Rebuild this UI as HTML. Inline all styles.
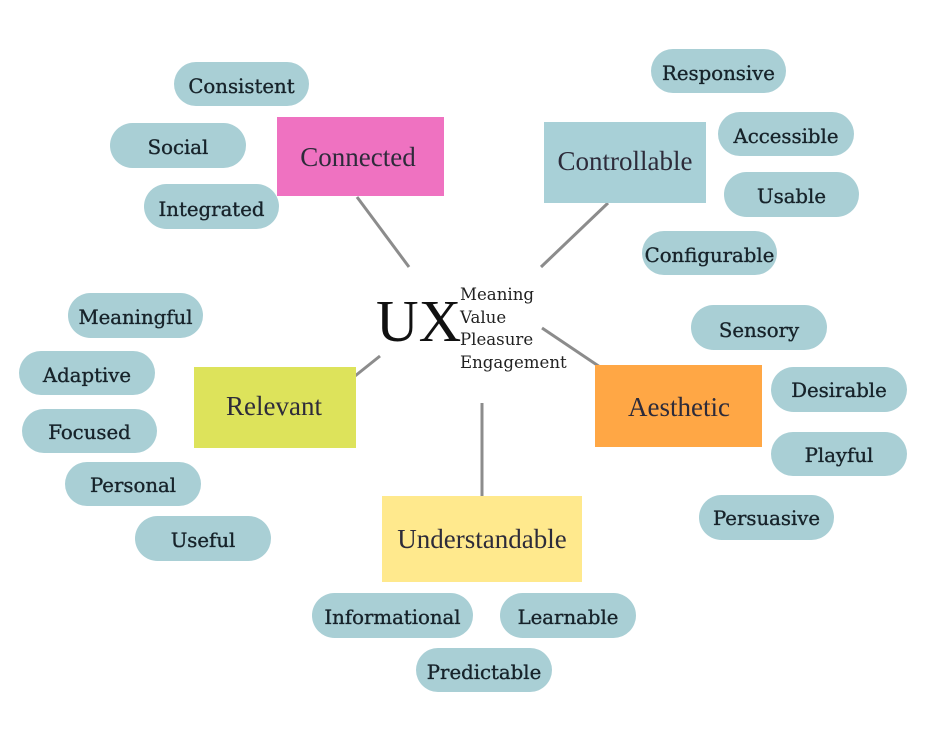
<!DOCTYPE html>
<html>
<head>
<meta charset="utf-8">
<style>
  html,body{margin:0;padding:0;background:#fff;}
  svg{display:block;}
  .pill{fill:#a9cfd5;}
  .pt{font-family:"DejaVu Serif","Liberation Serif",serif;font-size:19.7px;fill:#17232a;stroke:#17232a;stroke-width:0.35;text-anchor:middle;}
  .ct{font-family:"Liberation Serif",serif;font-size:27px;fill:#2d2b3a;text-anchor:middle;}
  .ln{stroke:#8c8c8c;stroke-width:3;}
  .sm{font-family:"DejaVu Serif","Liberation Serif",serif;font-size:16.6px;fill:#222;}
</style>
</head>
<body>
<svg width="944" height="732" viewBox="0 0 944 732" xmlns="http://www.w3.org/2000/svg">
  <rect width="944" height="732" fill="#fff"/>

  <!-- connectors -->
  <line class="ln" x1="357" y1="197" x2="409" y2="267"/>
  <line class="ln" x1="608" y1="203" x2="541" y2="267"/>
  <line class="ln" x1="355" y1="376" x2="380" y2="356"/>
  <line class="ln" x1="542" y1="328" x2="600" y2="367"/>
  <line class="ln" x1="482" y1="403" x2="482" y2="497"/>

  <!-- center UX -->
  <text x="376" y="341" style="font-family:'Liberation Serif',serif;font-size:59px;fill:#111;">UX</text>
  <text class="sm" x="460" y="300">Meaning</text>
  <text class="sm" x="460" y="323">Value</text>
  <text class="sm" x="460" y="345">Pleasure</text>
  <text class="sm" x="460" y="368">Engagement</text>

  <!-- category boxes -->
  <rect x="277" y="117" width="167" height="79" fill="#ef72c1"/>
  <text class="ct" x="358" y="166">Connected</text>

  <rect x="544" y="122" width="162" height="81" fill="#a8d0d7"/>
  <text class="ct" x="625" y="170">Controllable</text>

  <rect x="194" y="367" width="162" height="81" fill="#dde35b"/>
  <text class="ct" x="274" y="415">Relevant</text>

  <rect x="595" y="365" width="167" height="82" fill="#ffa745"/>
  <text class="ct" x="679" y="416">Aesthetic</text>

  <rect x="382" y="496" width="200" height="86" fill="#ffe98d"/>
  <text class="ct" x="482" y="548">Understandable</text>

  <!-- pills: Connected -->
  <rect class="pill" x="174" y="62" width="135" height="44" rx="22"/>
  <text class="pt" x="241.5" y="93">Consistent</text>
  <rect class="pill" x="110" y="123" width="136" height="45" rx="22.5"/>
  <text class="pt" x="178" y="154">Social</text>
  <rect class="pill" x="144" y="184" width="135" height="45" rx="22.5"/>
  <text class="pt" x="211.5" y="216">Integrated</text>

  <!-- pills: Controllable -->
  <rect class="pill" x="651" y="49" width="135" height="44" rx="22"/>
  <text class="pt" x="718.5" y="80">Responsive</text>
  <rect class="pill" x="718" y="112" width="136" height="44" rx="22"/>
  <text class="pt" x="786" y="143">Accessible</text>
  <rect class="pill" x="724" y="172" width="135" height="45" rx="22.5"/>
  <text class="pt" x="791.5" y="203">Usable</text>
  <rect class="pill" x="642" y="231" width="135" height="44" rx="22"/>
  <text class="pt" x="709.5" y="262">Configurable</text>

  <!-- pills: Relevant -->
  <rect class="pill" x="68" y="293" width="135" height="45" rx="22.5"/>
  <text class="pt" x="135.5" y="324">Meaningful</text>
  <rect class="pill" x="19" y="351" width="136" height="44" rx="22"/>
  <text class="pt" x="87" y="382">Adaptive</text>
  <rect class="pill" x="22" y="409" width="135" height="44" rx="22"/>
  <text class="pt" x="89.5" y="439">Focused</text>
  <rect class="pill" x="65" y="462" width="136" height="44" rx="22"/>
  <text class="pt" x="133" y="492">Personal</text>
  <rect class="pill" x="135" y="516" width="136" height="45" rx="22.5"/>
  <text class="pt" x="203" y="547">Useful</text>

  <!-- pills: Aesthetic -->
  <rect class="pill" x="691" y="305" width="136" height="45" rx="22.5"/>
  <text class="pt" x="759" y="337">Sensory</text>
  <rect class="pill" x="771" y="367" width="136" height="45" rx="22.5"/>
  <text class="pt" x="839" y="397">Desirable</text>
  <rect class="pill" x="771" y="432" width="136" height="44" rx="22"/>
  <text class="pt" x="839" y="462">Playful</text>
  <rect class="pill" x="699" y="495" width="135" height="45" rx="22.5"/>
  <text class="pt" x="766.5" y="525">Persuasive</text>

  <!-- pills: Understandable -->
  <rect class="pill" x="312" y="593" width="161" height="45" rx="22.5"/>
  <text class="pt" x="392.5" y="624">Informational</text>
  <rect class="pill" x="500" y="593" width="136" height="45" rx="22.5"/>
  <text class="pt" x="568" y="624">Learnable</text>
  <rect class="pill" x="416" y="648" width="136" height="44" rx="22"/>
  <text class="pt" x="484" y="679">Predictable</text>
</svg>
</body>
</html>
